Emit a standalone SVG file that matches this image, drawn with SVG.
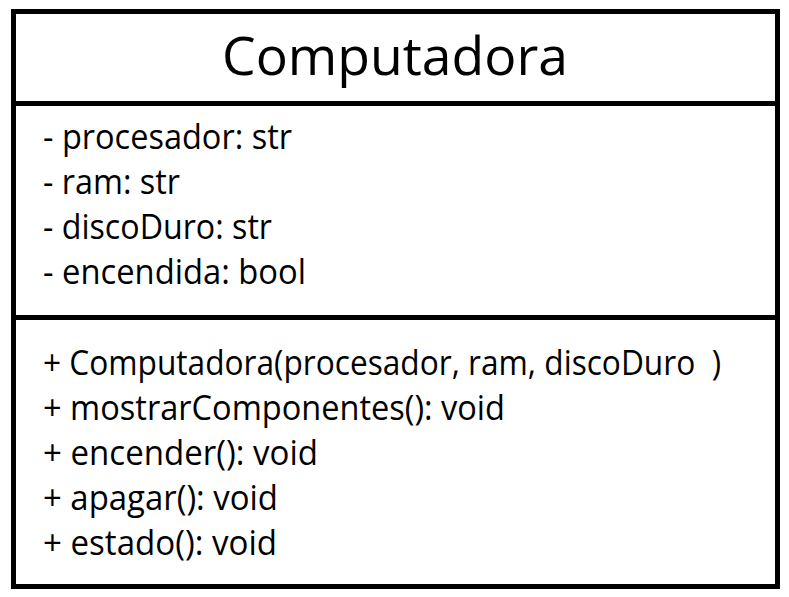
<svg xmlns="http://www.w3.org/2000/svg" width="789" height="597" viewBox="0 0 789 597">
<style>
.t{font-family:"Open Sans","Noto Sans","Liberation Sans",sans-serif;fill:#000}
.m{font-size:34px}
.h{font-size:53px}
.b{fill:none;stroke:#000;stroke-width:5}
</style>
<rect width="789" height="597" fill="#fff"/>
<g id="class-Computadora">
<rect class="b" x="13.5" y="11.5" width="764" height="575"/>
<line class="b" x1="13.5" y1="103.5" x2="777.5" y2="103.5"/>
<line class="b" x1="13.5" y1="317.5" x2="777.5" y2="317.5"/>
<text class="t h" x="222" y="75" textLength="346" lengthAdjust="spacingAndGlyphs">Computadora</text>
<text class="t m" x="43" y="149" textLength="249" lengthAdjust="spacingAndGlyphs">- procesador: str</text>
<text class="t m" x="43" y="194" textLength="137" lengthAdjust="spacingAndGlyphs">- ram: str</text>
<text class="t m" x="43" y="239" textLength="229" lengthAdjust="spacingAndGlyphs">- discoDuro: str</text>
<text class="t m" x="43" y="284" textLength="263" lengthAdjust="spacingAndGlyphs">- encendida: bool</text>
<text class="t m" x="43" y="375" xml:space="preserve" textLength="678" lengthAdjust="spacingAndGlyphs">+ Computadora(procesador, ram, discoDuro  )</text>
<text class="t m" x="43" y="420" textLength="462" lengthAdjust="spacingAndGlyphs">+ mostrarComponentes(): void</text>
<text class="t m" x="43" y="465" textLength="275" lengthAdjust="spacingAndGlyphs">+ encender(): void</text>
<text class="t m" x="43" y="510" textLength="235" lengthAdjust="spacingAndGlyphs">+ apagar(): void</text>
<text class="t m" x="43" y="555" textLength="234" lengthAdjust="spacingAndGlyphs">+ estado(): void</text>
</g>
</svg>
